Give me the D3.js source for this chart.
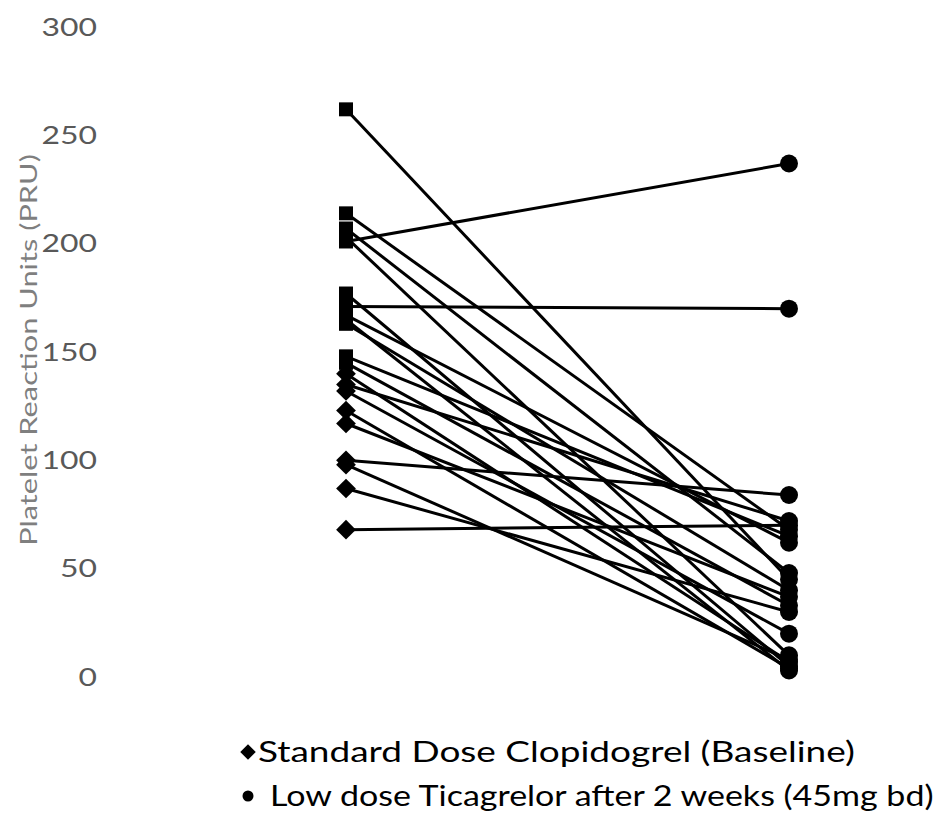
<!DOCTYPE html>
<html><head><meta charset="utf-8">
<script src="https://cdn.jsdelivr.net/npm/d3@7"></script>
<style>body{margin:0;background:#fff}</style>
</head><body>
<svg id="c" width="938" height="814"></svg>
<script>
const timepoints = ["Standard Dose Clopidogrel (Baseline)", "Low dose Ticagrelor after 2 weeks (45mg bd)"];
const baseline = [262, 214, 207, 203, 201, 177, 171, 167, 165, 163, 148, 145, 140, 135, 132, 123, 117, 100, 98, 87, 68];
const ticagrelor = [45, 68, 48, 10, 237, 5, 170, 62, 3, 40, 65, 33, 7, 72, 20, 4, 37, 84, 8, 30, 70];
const yTicks = [0, 50, 100, 150, 200, 250, 300];
const yTitle = "Platelet Reaction Units (PRU)";

const svg = d3.select("#c");
const font = "Lato, 'Open Sans', sans-serif";
const x = d3.scalePoint().domain([0, 1]).range([346, 789]);
const y = d3.scaleLinear().domain([0, 300]).range([677, 27]);

function stretch(sel, target, pre) {
  sel.each(function(d) {
    const w = this.getComputedTextLength();
    const t = typeof target === "function" ? target(d) : target;
    d3.select(this).attr("transform", (pre || "") + ` scale(${t / w},1)`);
  });
}

// y axis labels (no line)
const ax = svg.append("g").attr("transform", "translate(97,0)")
  .call(d3.axisLeft(y).tickValues(yTicks).tickSize(0).tickPadding(0));
ax.select(".domain").remove();
ax.selectAll("text").attr("font-family", font).attr("font-size", 25).attr("fill", "#595959");
stretch(ax.selectAll("text"), d => String(d).length * 18.5);

const tt = svg.append("text").attr("text-anchor", "middle").attr("font-family", font).attr("font-size", 24)
  .attr("fill", "#7f7f7f").text(yTitle);
stretch(tt, 392, `translate(37,${y(150) - 2}) rotate(-90)`);

const pairs = baseline.map((b, i) => [b, ticagrelor[i]]);
const line = d3.line().x((d, i) => x(i)).y(d => y(d));
svg.append("g").selectAll("path").data(pairs).join("path")
  .attr("d", d => line(d)).attr("fill", "none").attr("stroke", "#000").attr("stroke-width", 3);

svg.append("g").selectAll("path").data(baseline).join("path")
  .attr("transform", d => `translate(${x(0)},${y(d)}) rotate(${d > 140 ? 0 : 45})`)
  .attr("d", d3.symbol().type(d3.symbolSquare).size(195)())
  .attr("fill", "#000");
svg.append("g").selectAll("circle").data(ticagrelor).join("circle")
  .attr("cx", x(1)).attr("cy", d => y(d)).attr("r", 9).attr("fill", "#000");

// legend
const lg = svg.append("g");
lg.append("path").attr("transform", "translate(248,752) rotate(45)").attr("d", d3.symbol().type(d3.symbolSquare).size(120)()).attr("fill", "#000");
const l1 = lg.append("text").attr("font-family", font).attr("font-size", 28).attr("fill", "#000").text(timepoints[0]);
stretch(l1, 597, "translate(258,762)");
lg.append("circle").attr("cx", 248).attr("cy", 796).attr("r", 5.5).attr("fill", "#000");
const l2 = lg.append("text").attr("font-family", font).attr("font-size", 28).attr("fill", "#000").text(timepoints[1]);
stretch(l2, 664, "translate(270,806)");
</script>
</body></html>
